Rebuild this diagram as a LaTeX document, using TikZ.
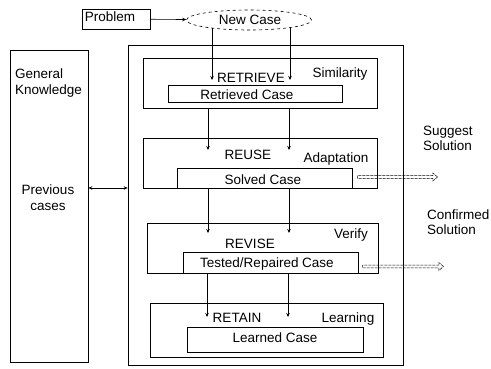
\documentclass[tikz,border=0pt]{standalone}
\usepackage{fontspec}
\setmainfont{Liberation Sans}
\usetikzlibrary{shapes.geometric,shapes.arrows,arrows.meta,calc}

\begin{document}
\begin{tikzpicture}[x=1pt,y=-1pt,
    box/.style={draw, line width=0.6pt, inner sep=0pt},
    tag/.style={font=\fontsize{13.5}{16}\selectfont, inner sep=0pt, anchor=base},
    arr/.style={-{Stealth[length=4pt,width=3.5pt]}, line width=0.6pt},
    hol/.style={single arrow, draw, line width=0.5pt, dash pattern=on 3pt off 1pt,
                inner sep=1.2pt, single arrow head extend=2.5pt,
                single arrow tip angle=80, anchor=west}]
    \useasboundingbox (0,0) rectangle (491,369);
    % outer frames
    \node[box, minimum width=275pt, minimum height=320pt] (main) at (265.5,205) {};
    \node[box, minimum width=78pt, minimum height=312pt] (gk) at (49,206.5) {};
    \node[box, minimum width=68pt, minimum height=20pt] (prob) at (116,19) {};
    \node[box, dashed, ellipse, minimum width=125pt, minimum height=20pt] (newc) at (249,20) {};
    % step boxes
    \node[box, minimum width=234pt, minimum height=50pt] (retrieve) at (260,83) {};
    \node[box, minimum width=174pt, minimum height=17pt] (rcase) at (255,93.5) {};
    \node[box, minimum width=234pt, minimum height=50pt] (reuse) at (260,163) {};
    \node[box, minimum width=175pt, minimum height=20pt] (solved) at (264.5,178) {};
    \node[box, minimum width=231pt, minimum height=50pt] (revise) at (262.5,248) {};
    \node[box, minimum width=175pt, minimum height=21pt] (tested) at (270.5,262.5) {};
    \node[box, minimum width=233pt, minimum height=54pt] (retain) at (266.5,330) {};
    \node[box, minimum width=176pt, minimum height=25pt] (learned) at (275,339.5) {};
    % texts
    \node[tag] at (110,22) {Problem};
    \node[tag] at (250,25) {New Case};
    \node[tag, anchor=base west, align=left] at (15,95) {General\\Knowledge};
    \node[tag, align=center] at (48,211) {Previous\\cases};
    \node[tag] at (251,83) {RETRIEVE};
    \node[tag] at (340,78) {Similarity};
    \node[tag] at (247,100) {Retrieved Case};
    \node[tag] at (248,160) {REUSE};
    \node[tag] at (336,163) {Adaptation};
    \node[tag] at (263,185) {Solved Case};
    \node[tag] at (250,248) {REVISE};
    \node[tag] at (351,239) {Verify};
    \node[tag] at (267,268) {Tested/Repaired Case};
    \node[tag] at (237,323) {RETAIN};
    \node[tag] at (348,323) {Learning};
    \node[tag] at (275,342) {Learned Case};
    \node[tag, anchor=base west, align=left] at (423,151) {Suggest\\Solution};
    \node[tag, anchor=base west, align=left] at (427,235) {Confirmed\\Solution};
    % arrow ends
    \coordinate (t1a) at (212,80);
    \coordinate (t1b) at (290,80);
    \coordinate (t2a) at (208,150);
    \coordinate (t2b) at (289,150);
    \coordinate (t3a) at (208,233);
    \coordinate (t3b) at (289,233);
    \coordinate (t4a) at (207,317);
    \coordinate (t4b) at (288,317);
    \coordinate (kb) at (0,188);
    % connectors
    \draw[arr] (prob) -- (newc);
    \draw[arr] ($(newc.south -| t1a)+(0,-2)$) -- (t1a);
    \draw[arr] ($(newc.south -| t1b)+(0,-2)$) -- (t1b);
    \draw[arr] (retrieve.south -| t2a) -- (t2a);
    \draw[arr] (retrieve.south -| t2b) -- (t2b);
    \draw[arr] (reuse.south -| t3a) -- (t3a);
    \draw[arr] (reuse.south -| t3b) -- (t3b);
    \draw[arr] (revise.south -| t4a) -- (t4a);
    \draw[arr] (revise.south -| t4b) -- (t4b);
    \draw[arr, {Stealth[length=4pt,width=3.5pt]}-{Stealth[length=4pt,width=3.5pt]}] (gk.east |- kb) -- (main.west |- kb);
    % outgoing solutions
    \node[hol, minimum height=80pt] (sugg) at ([xshift=5pt,yshift=1pt]solved.east) {};
    \node[hol, minimum height=81pt] (conf) at ([xshift=4pt,yshift=-4pt]tested.east) {};
\end{tikzpicture}
\end{document}
